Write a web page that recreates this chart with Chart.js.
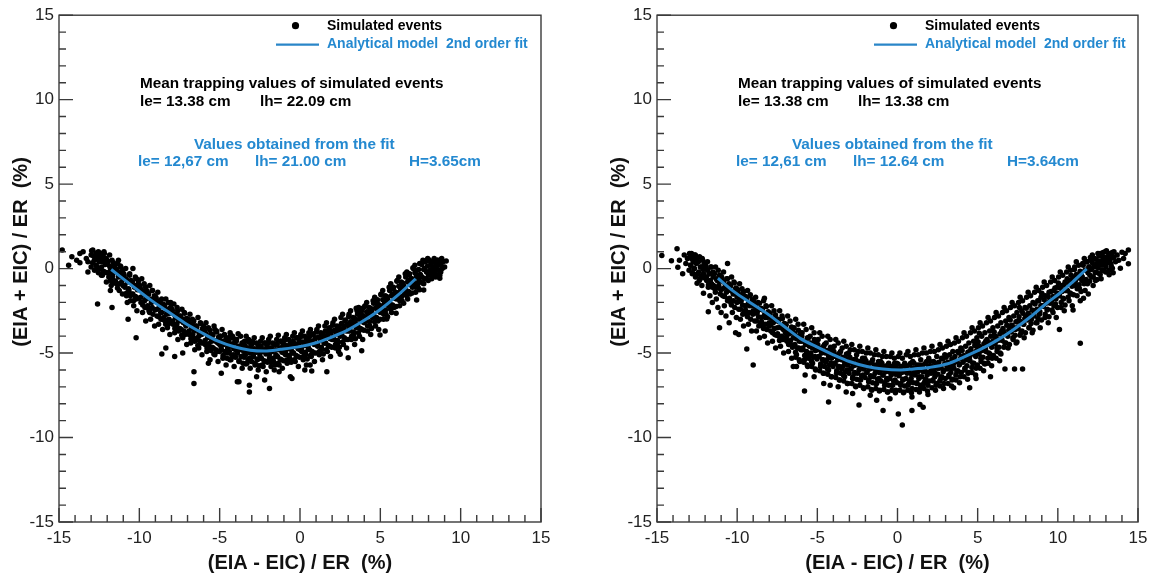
<!DOCTYPE html>
<html>
<head>
<meta charset="utf-8">
<script src="https://cdn.jsdelivr.net/npm/chart.js@4.4.1/dist/chart.umd.min.js"></script>
<style>
  html, body { margin: 0; padding: 0; background: #fff; }
  #wrap { position: relative; width: 1162px; height: 581px; }
  canvas { position: absolute; top: 0; }
</style>
</head>
<body>
<div id="wrap">
  <canvas id="left-panel" width="581" height="581" style="left:0"></canvas>
  <canvas id="right-panel" width="581" height="581" style="left:581px"></canvas>
</div>
<script>
// ── DATA ──────────────────────────────────
const axisTicks = [-15, -10, -5, 0, 5, 10, 15];
const xTitle = '(EIA - EIC) / ER  (%)';
const yTitle = '(EIA + EIC) / ER  (%)';
const legendLabels = ['Simulated events', 'Analytical model  2nd order fit'];
const meanTitle = 'Mean trapping values of simulated events';
const fitTitle = 'Values obtained from the fit';
const leftMean = ['le= 13.38 cm', 'lh= 22.09 cm'];
const leftFit = ['le= 12,67 cm', 'lh= 21.00 cm', 'H=3.65cm'];
const rightMean = ['le= 13.38 cm', 'lh= 13.38 cm'];
const rightFit = ['le= 12,61 cm', 'lh= 12.64 cm', 'H=3.64cm'];

// blue fit curves
const leftFitCurve = [
  [-11.75,-0.05],[-10.4,-1.05],[-9.3,-1.85],[-8.3,-2.5],[-7.2,-3.2],[-6.2,-3.75],
  [-5.1,-4.3],[-4.1,-4.63],[-3.1,-4.83],[-2.2,-4.88],[-1.2,-4.78],[0,-4.62],
  [0.9,-4.42],[1.9,-4.08],[2.9,-3.67],[3.9,-3.12],[5,-2.42],[6,-1.65],[7.2,-0.6]
];
const rightFitCurve = [
  [-11.2,-0.57],[-10.2,-1.36],[-9.2,-2.0],[-8.15,-2.65],[-7.1,-3.4],[-6.07,-4.13],
  [-5,-4.65],[-4,-5.1],[-3,-5.5],[-1.9,-5.8],[-0.9,-5.95],[0.2,-6.0],[1.0,-5.94],
  [2,-5.85],[3.07,-5.65],[4.1,-5.25],[5.14,-4.8],[6.2,-4.25],[7.2,-3.63],
  [8.3,-2.85],[9.3,-2.05],[10.2,-1.4],[10.95,-0.77],[11.8,-0.02]
];

// simulated events (x, y), left panel: spread and outliers
const leftEvents = [
  [-14.8,1.1],[-14.4,0.2],[-14.2,0.7],[-13.9,0.5],[-13.7,0.9],[-13.7,0.35],[-13.5,1.0],[-13.3,0.6],[-13.2,-0.2],[-13.2,0.4],[-13.0,0.8],[-13.0,0.1],
  [-12.9,1.1],[-12.8,0.5],[-12.7,0.9],[-12.7,0.2],[-12.6,0.7],[-12.6,-0.1],[-12.55,1.0],[-12.5,0.4],[-12.6,-2.1],
  [-12.45,0.6],[-12.4,0.9],[-12.35,0.1],[-12.3,-0.4],[-12.25,0.5],[-12.2,1.0],[-12.15,-0.2],[-12.1,0.3],[-12.05,-0.8],[-12.3,0.7],
  [-11.95,0.4],[-11.9,-0.5],[-11.85,0.8],[-11.8,0.0],[-11.75,-1.0],[-11.7,0.5],[-11.65,-0.3],[-11.6,-0.7],[-11.55,0.2],[-11.7,-2.3],[-11.8,-1.3],
  [-11.45,-0.1],[-11.4,-0.9],[-11.35,0.3],[-11.3,-0.5],[-11.25,-1.3],[-11.2,-0.2],[-11.15,0.1],[-11.1,-0.8],[-11.05,-1.5],[-11.3,0.5],
  [-10.95,-0.4],[-10.9,-1.1],[-10.85,0.0],[-10.8,-1.6],[-10.75,-0.7],[-10.7,-3.0],[-10.65,-1.3],[-10.6,-0.3],[-10.55,-1.9],[-10.75,-2.0],
  [-10.45,-0.8],[-10.4,0.0],[-10.4,-1.5],[-10.35,-2.2],[-10.3,-1.0],[-10.25,-0.5],[-10.2,-4.1],[-10.2,-1.8],[-10.15,-2.5],[-10.1,-1.2],[-10.05,-0.7],
  [-9.95,-1.1],[-9.9,-2.0],[-9.85,-0.6],[-9.8,-2.6],[-9.75,-1.5],[-9.7,-0.9],[-9.65,-2.3],[-9.6,-3.1],[-9.55,-1.3],[-9.6,-1.8],
  [-9.45,-1.5],[-9.4,-2.5],[-9.35,-1.0],[-9.3,-3.0],[-9.25,-2.0],[-9.2,-1.3],[-9.15,-2.7],[-9.1,-1.8],[-9.05,-3.4],[-9.2,-2.3],
  [-8.95,-1.8],[-8.9,-2.8],[-8.85,-1.4],[-8.8,-3.3],[-8.75,-2.3],[-8.7,-1.9],[-8.65,-3.0],[-8.6,-5.05],[-8.6,-2.6],[-8.55,-3.6],[-8.8,-2.0],
  [-8.45,-2.2],[-8.4,-3.1],[-8.35,-4.7],[-8.35,-1.8],[-8.3,-2.7],[-8.25,-3.5],[-8.2,-2.4],[-8.15,-3.0],[-8.1,-3.9],[-8.05,-2.0],[-8.2,-3.3],
  [-7.95,-2.5],[-7.9,-3.3],[-7.85,-2.1],[-7.8,-5.2],[-7.8,-3.8],[-7.75,-2.9],[-7.7,-3.5],[-7.65,-2.3],[-7.6,-4.2],[-7.55,-3.1],[-7.7,-2.7],
  [-7.45,-2.8],[-7.4,-3.6],[-7.35,-2.4],[-7.3,-5.0],[-7.3,-4.1],[-7.25,-3.2],[-7.2,-2.6],[-7.15,-3.9],[-7.1,-3.4],[-7.05,-4.5],[-7.2,-3.0],
  [-6.95,-3.1],[-6.9,-3.9],[-6.85,-2.7],[-6.8,-4.4],[-6.75,-3.5],[-6.7,-3.0],[-6.65,-4.1],[-6.6,-6.8],[-6.6,-6.1],[-6.6,-3.7],[-6.55,-4.8],[-6.7,-3.3],
  [-6.45,-3.4],[-6.4,-4.2],[-6.35,-2.9],[-6.3,-4.7],[-6.25,-3.8],[-6.2,-3.2],[-6.15,-4.4],[-6.1,-5.1],[-6.05,-3.6],[-6.0,-3.4],[-6.3,-4.0],
  [-5.95,-3.7],[-5.9,-4.5],[-5.85,-3.2],[-5.8,-4.9],[-5.75,-4.1],[-5.7,-3.5],[-5.65,-4.7],[-5.6,-5.4],[-5.55,-3.9],[-5.5,-4.3],[-5.7,-5.6],
  [-5.45,-3.9],[-5.4,-4.7],[-5.35,-3.4],[-5.3,-5.1],[-5.25,-4.3],[-5.2,-3.7],[-5.15,-4.9],[-5.1,-5.5],[-5.05,-4.1],[-5.0,-4.5],[-5.3,-3.6],
  [-4.95,-4.0],[-4.9,-6.2],[-4.9,-4.8],[-4.85,-3.6],[-4.8,-5.3],[-4.75,-4.4],[-4.7,-3.9],[-4.65,-5.0],[-4.6,-5.7],[-4.55,-4.2],[-4.5,-4.7],
  [-4.45,-4.1],[-4.4,-4.9],[-4.35,-3.8],[-4.3,-5.4],[-4.25,-4.5],[-4.2,-4.0],[-4.15,-5.1],[-4.1,-5.8],[-4.05,-4.3],[-4.0,-4.8],[-4.3,-3.95],
  [-3.95,-4.2],[-3.9,-6.7],[-3.9,-5.0],[-3.85,-3.85],[-3.8,-5.5],[-3.75,-4.6],[-3.7,-4.0],[-3.65,-5.2],[-3.6,-5.9],[-3.55,-4.4],[-3.5,-4.9],[-3.8,-6.7],
  [-3.45,-4.3],[-3.4,-5.1],[-3.35,-4.0],[-3.3,-5.6],[-3.25,-4.7],[-3.2,-4.2],[-3.15,-6.9],[-3.15,-7.3],[-3.15,-5.3],[-3.1,-5.9],[-3.05,-4.5],[-3.0,-5.0],
  [-2.95,-4.3],[-2.9,-5.2],[-2.85,-4.1],[-2.8,-5.7],[-2.75,-4.8],[-2.7,-6.4],[-2.7,-4.4],[-2.65,-5.4],[-2.6,-6.0],[-2.55,-4.6],[-2.5,-5.1],
  [-2.45,-4.3],[-2.4,-5.3],[-2.35,-4.1],[-2.3,-5.8],[-2.25,-4.8],[-2.2,-6.6],[-2.2,-4.4],[-2.15,-5.5],[-2.1,-6.1],[-2.05,-4.6],[-2.0,-5.0],
  [-1.95,-4.2],[-1.9,-7.1],[-1.9,-5.3],[-1.85,-4.0],[-1.8,-5.8],[-1.75,-4.7],[-1.7,-4.4],[-1.65,-5.5],[-1.6,-6.0],[-1.55,-4.5],[-1.5,-5.1],
  [-1.45,-4.2],[-1.4,-5.2],[-1.35,-3.95],[-1.3,-5.7],[-1.25,-4.7],[-1.2,-4.3],[-1.15,-5.4],[-1.1,-5.9],[-1.05,-4.5],[-1.0,-5.0],[-1.3,-6.1],
  [-0.95,-4.1],[-0.9,-5.1],[-0.85,-3.9],[-0.8,-5.6],[-0.75,-4.6],[-0.7,-4.2],[-0.65,-5.3],[-0.6,-6.4],[-0.55,-4.4],[-0.5,-4.9],[-0.5,-6.5],
  [-0.45,-4.0],[-0.4,-5.0],[-0.35,-3.8],[-0.3,-5.5],[-0.25,-4.5],[-0.2,-4.1],[-0.15,-5.2],[-0.1,-5.8],[-0.05,-4.3],[0.0,-4.8],
  [0.05,-3.9],[0.1,-4.9],[0.15,-3.7],[0.2,-5.4],[0.25,-4.4],[0.3,-6.0],[0.3,-4.0],[0.35,-5.1],[0.4,-5.7],[0.45,-4.2],[0.5,-4.6],
  [0.55,-3.8],[0.6,-4.8],[0.63,-5.7],[0.65,-3.6],[0.7,-5.2],[0.73,-6.06],[0.75,-4.3],[0.8,-3.9],[0.85,-5.0],[0.9,-5.5],[0.95,-4.1],[1.0,-4.5],
  [1.05,-3.6],[1.1,-4.6],[1.15,-3.4],[1.2,-5.1],[1.25,-4.1],[1.3,-3.8],[1.35,-4.8],[1.4,-5.4],[1.45,-3.9],[1.5,-4.4],
  [1.55,-3.4],[1.6,-4.4],[1.65,-3.2],[1.67,-6.1],[1.7,-4.9],[1.75,-3.9],[1.8,-3.6],[1.85,-4.6],[1.9,-5.2],[1.95,-3.7],[2.0,-4.2],
  [2.05,-3.2],[2.1,-4.2],[2.15,-3.0],[2.2,-4.7],[2.25,-3.7],[2.3,-3.4],[2.35,-4.4],[2.4,-4.9],[2.45,-3.5],[2.5,-5.07],[2.5,-4.0],
  [2.55,-2.9],[2.6,-3.9],[2.65,-2.7],[2.7,-4.5],[2.75,-3.4],[2.8,-3.1],[2.85,-4.2],[2.9,-4.7],[2.95,-3.3],[3.0,-5.27],[3.0,-3.7],
  [3.05,-2.7],[3.1,-3.7],[3.15,-2.5],[3.2,-4.2],[3.25,-3.2],[3.3,-2.9],[3.35,-3.9],[3.4,-4.5],[3.45,-3.0],[3.5,-2.35],[3.5,-3.5],
  [3.55,-2.5],[3.6,-3.4],[3.65,-2.3],[3.7,-4.0],[3.75,-2.9],[3.8,-2.6],[3.84,-4.86],[3.85,-3.6],[3.9,-2.35],[3.9,-4.2],[3.95,-2.8],[4.0,-3.2],
  [4.05,-2.2],[4.1,-3.1],[4.15,-2.0],[4.2,-3.7],[4.25,-2.6],[4.3,-2.3],[4.35,-3.4],[4.4,-3.9],[4.45,-2.5],[4.5,-2.9],
  [4.55,-1.9],[4.6,-2.8],[4.65,-1.7],[4.7,-3.4],[4.75,-2.3],[4.8,-2.0],[4.85,-3.1],[4.9,-3.6],[4.95,-2.2],[4.98,-3.93],[5.0,-2.6],
  [5.05,-1.5],[5.1,-2.5],[5.15,-1.3],[5.2,-3.0],[5.25,-1.9],[5.3,-3.7],[5.3,-1.6],[5.35,-2.7],[5.4,-2.98],[5.45,-1.8],[5.5,-2.2],
  [5.55,-1.1],[5.6,-2.1],[5.65,-0.9],[5.7,-2.6],[5.75,-1.5],[5.8,-1.2],[5.85,-2.3],[5.9,-1.7],[5.95,-1.4],[5.98,-2.65],[6.0,-1.8],
  [6.05,-0.7],[6.1,-1.7],[6.15,-0.5],[6.2,-2.2],[6.25,-1.1],[6.3,-0.8],[6.35,-1.9],[6.4,-1.3],[6.45,-1.0],[6.5,-1.5],
  [6.55,-0.3],[6.6,-1.3],[6.65,-0.2],[6.7,-1.8],[6.75,-0.7],[6.8,-0.4],[6.85,-1.5],[6.9,-0.9],[6.95,-0.6],[7.0,-1.1],
  [7.05,0.0],[7.1,-0.9],[7.15,0.2],[7.2,-1.4],[7.25,-0.4],[7.26,-1.86],[7.3,-0.1],[7.35,-1.1],[7.4,-0.6],[7.45,0.3],[7.5,-0.8],
  [7.55,0.3],[7.6,-0.5],[7.65,0.5],[7.7,-1.26],[7.7,-0.9],[7.75,0.0],[7.8,0.4],[7.85,-0.6],[7.9,-0.2],[7.95,0.6],[8.0,-0.4],
  [8.05,0.5],[8.1,-0.2],[8.15,0.2],[8.2,-0.6],[8.25,0.4],[8.3,0.0],[8.35,0.6],[8.4,-0.3],[8.45,0.3],[8.5,0.1],
  [8.55,0.5],[8.6,-0.1],[8.65,0.3],[8.7,-0.57],[8.75,0.2],[8.8,0.55],[8.85,0.0],[8.9,0.4],[9.0,0.1],[9.1,0.45],[8.7,-0.4]
];

// left panel: dense core of the band
const leftEventsCore = [
  [-12.97,1.05],[-12.91,0.35],[-12.85,0.75],[-12.79,-0.1],[-12.73,0.55],[-12.67,0.15],[-12.61,0.95],[-12.55,-0.25],[-12.51,0.65],
  [-12.48,0.0],[-12.42,0.7],[-12.36,-0.4],[-12.3,0.4],[-12.24,-0.15],[-12.18,0.9],[-12.12,0.25],[-12.06,0.6],[-12.02,-0.25],
  [-11.97,0.45],[-11.91,-0.25],[-11.85,0.15],[-11.79,-0.7],[-11.73,-0.05],[-11.67,-0.45],[-11.61,0.35],[-11.55,-0.85],[-11.51,0.05],
  [-11.48,-0.75],[-11.42,-0.05],[-11.36,-1.15],[-11.3,-0.35],[-11.24,-0.9],[-11.18,0.15],[-11.12,-0.5],[-11.06,-0.15],[-11.02,-1.0],
  [-10.97,-0.3],[-10.91,-1.0],[-10.85,-0.6],[-10.79,-1.45],[-10.73,-0.8],[-10.67,-1.2],[-10.61,-0.4],[-10.55,-1.6],[-10.51,-0.7],
  [-10.48,-1.5],[-10.42,-0.8],[-10.36,-1.9],[-10.3,-1.1],[-10.24,-1.65],[-10.18,-0.6],[-10.12,-1.25],[-10.06,-0.9],[-10.02,-1.75],
  [-9.97,-1.0],[-9.91,-1.7],[-9.85,-1.3],[-9.79,-2.15],[-9.73,-1.5],[-9.67,-1.9],[-9.61,-1.1],[-9.55,-2.3],[-9.51,-1.4],
  [-9.48,-2.2],[-9.42,-1.5],[-9.36,-2.6],[-9.3,-1.8],[-9.24,-2.35],[-9.18,-1.3],[-9.12,-1.95],[-9.06,-1.6],[-9.02,-2.45],
  [-8.97,-1.7],[-8.91,-2.4],[-8.85,-2.0],[-8.79,-2.85],[-8.73,-2.2],[-8.67,-2.6],[-8.61,-1.8],[-8.55,-3.0],[-8.51,-2.1],
  [-8.48,-2.9],[-8.42,-2.2],[-8.36,-3.3],[-8.3,-2.5],[-8.24,-3.05],[-8.18,-2.0],[-8.12,-2.65],[-8.06,-2.3],[-8.02,-3.15],
  [-7.97,-2.4],[-7.91,-3.1],[-7.85,-2.7],[-7.79,-3.55],[-7.73,-2.9],[-7.67,-3.3],[-7.61,-2.5],[-7.55,-3.7],[-7.51,-2.8],
  [-7.48,-3.55],[-7.42,-2.85],[-7.36,-3.95],[-7.3,-3.15],[-7.24,-3.7],[-7.18,-2.65],[-7.12,-3.3],[-7.06,-2.95],[-7.02,-3.8],
  [-6.97,-3.0],[-6.91,-3.7],[-6.85,-3.3],[-6.79,-4.15],[-6.73,-3.5],[-6.67,-3.9],[-6.61,-3.1],[-6.55,-4.3],[-6.51,-3.4],
  [-6.48,-4.15],[-6.42,-3.45],[-6.36,-4.55],[-6.3,-3.75],[-6.24,-4.3],[-6.18,-3.25],[-6.12,-3.9],[-6.06,-3.55],[-6.02,-4.4],
  [-5.97,-3.55],[-5.91,-4.25],[-5.85,-3.85],[-5.79,-4.7],[-5.73,-4.05],[-5.67,-4.45],[-5.61,-3.65],[-5.55,-4.85],[-5.51,-3.95],
  [-5.48,-4.65],[-5.42,-3.95],[-5.36,-5.05],[-5.3,-4.25],[-5.24,-4.8],[-5.18,-3.75],[-5.12,-4.4],[-5.06,-4.05],[-5.02,-4.9],
  [-4.97,-4.0],[-4.91,-4.7],[-4.85,-4.3],[-4.79,-5.15],[-4.73,-4.5],[-4.67,-4.9],[-4.61,-4.1],[-4.55,-5.3],[-4.51,-4.4],
  [-4.48,-5.0],[-4.42,-4.3],[-4.36,-5.4],[-4.3,-4.6],[-4.24,-5.15],[-4.18,-4.1],[-4.12,-4.75],[-4.06,-4.4],[-4.02,-5.25],
  [-3.97,-4.3],[-3.91,-5.0],[-3.85,-4.6],[-3.79,-5.45],[-3.73,-4.8],[-3.67,-5.2],[-3.61,-4.4],[-3.55,-5.6],[-3.51,-4.7],
  [-3.48,-5.25],[-3.42,-4.55],[-3.36,-5.65],[-3.3,-4.85],[-3.24,-5.4],[-3.18,-4.35],[-3.12,-5.0],[-3.06,-4.65],[-3.02,-5.5],
  [-2.97,-4.45],[-2.91,-5.15],[-2.85,-4.75],[-2.79,-5.6],[-2.73,-4.95],[-2.67,-5.35],[-2.61,-4.55],[-2.55,-5.75],[-2.51,-4.85],
  [-2.48,-5.3],[-2.42,-4.6],[-2.36,-5.7],[-2.3,-4.9],[-2.24,-5.45],[-2.18,-4.4],[-2.12,-5.05],[-2.06,-4.7],[-2.02,-5.55],
  [-1.97,-4.4],[-1.91,-5.1],[-1.85,-4.7],[-1.79,-5.55],[-1.73,-4.9],[-1.67,-5.3],[-1.61,-4.5],[-1.55,-5.7],[-1.51,-4.8],
  [-1.48,-5.2],[-1.42,-4.5],[-1.36,-5.6],[-1.3,-4.8],[-1.24,-5.35],[-1.18,-4.3],[-1.12,-4.95],[-1.06,-4.6],[-1.02,-5.45],
  [-0.97,-4.25],[-0.91,-4.95],[-0.85,-4.55],[-0.79,-5.4],[-0.73,-4.75],[-0.67,-5.15],[-0.61,-4.35],[-0.55,-5.55],[-0.51,-4.65],
  [-0.48,-5.0],[-0.42,-4.3],[-0.36,-5.4],[-0.3,-4.6],[-0.24,-5.15],[-0.18,-4.1],[-0.12,-4.75],[-0.06,-4.4],[-0.02,-5.25],
  [0.03,-4.05],[0.09,-4.75],[0.15,-4.35],[0.21,-5.2],[0.27,-4.55],[0.33,-4.95],[0.39,-4.15],[0.45,-5.35],[0.49,-4.45],
  [0.52,-4.75],[0.58,-4.05],[0.64,-5.15],[0.7,-4.35],[0.76,-4.9],[0.82,-3.85],[0.88,-4.5],[0.94,-4.15],[0.98,-5.0],
  [1.03,-3.75],[1.09,-4.45],[1.15,-4.05],[1.21,-4.9],[1.27,-4.25],[1.33,-4.65],[1.39,-3.85],[1.45,-5.05],[1.49,-4.15],
  [1.52,-4.4],[1.58,-3.7],[1.64,-4.8],[1.7,-4.0],[1.76,-4.55],[1.82,-3.5],[1.88,-4.15],[1.94,-3.8],[1.98,-4.65],
  [2.03,-3.35],[2.09,-4.05],[2.15,-3.65],[2.21,-4.5],[2.27,-3.85],[2.33,-4.25],[2.39,-3.45],[2.45,-4.65],[2.49,-3.75],
  [2.52,-3.95],[2.58,-3.25],[2.64,-4.35],[2.7,-3.55],[2.76,-4.1],[2.82,-3.05],[2.88,-3.7],[2.94,-3.35],[2.98,-4.2],
  [3.03,-2.85],[3.09,-3.55],[3.15,-3.15],[3.21,-4.0],[3.27,-3.35],[3.33,-3.75],[3.39,-2.95],[3.45,-4.15],[3.49,-3.25],
  [3.52,-3.4],[3.58,-2.7],[3.64,-3.8],[3.7,-3.0],[3.76,-3.55],[3.82,-2.5],[3.88,-3.15],[3.94,-2.8],[3.98,-3.65],
  [4.03,-2.25],[4.09,-2.95],[4.15,-2.55],[4.21,-3.4],[4.27,-2.75],[4.33,-3.15],[4.39,-2.35],[4.45,-3.55],[4.49,-2.65],
  [4.52,-2.75],[4.58,-2.05],[4.64,-3.15],[4.7,-2.35],[4.76,-2.9],[4.82,-1.85],[4.88,-2.5],[4.94,-2.15],[4.98,-3.0],
  [5.03,-1.55],[5.09,-2.25],[5.15,-1.85],[5.21,-2.7],[5.27,-2.05],[5.33,-2.45],[5.39,-1.65],[5.45,-2.85],[5.49,-1.95],
  [5.52,-2.0],[5.58,-1.3],[5.64,-2.4],[5.7,-1.6],[5.76,-2.15],[5.82,-1.1],[5.88,-1.75],[5.94,-1.4],[5.98,-2.25],
  [6.03,-0.75],[6.09,-1.45],[6.15,-1.05],[6.21,-1.9],[6.27,-1.25],[6.33,-1.65],[6.39,-0.85],[6.45,-2.05],[6.49,-1.15],
  [6.52,-1.2],[6.58,-0.5],[6.64,-1.6],[6.7,-0.8],[6.76,-1.35],[6.82,-0.3],[6.88,-0.95],[6.94,-0.6],[6.98,-1.45],
  [7.03,0.05],[7.09,-0.65],[7.15,-0.25],[7.21,-1.1],[7.27,-0.45],[7.33,-0.85],[7.39,-0.05],[7.45,-1.25],[7.49,-0.35],
  [7.52,-0.45],[7.58,0.25],[7.64,-0.85],[7.7,-0.05],[7.76,-0.6],[7.82,0.45],[7.88,-0.2],[7.94,0.15],[7.98,-0.7],
  [8.03,0.5],[8.09,-0.1],[8.15,0.3],[8.21,-0.45],[8.27,0.1],[8.33,-0.25],[8.39,0.45],[8.45,-0.5],[8.49,0.2],
  [8.52,-0.1],[8.58,0.5],[8.64,-0.4],[8.7,0.25],[8.76,-0.2],[8.82,0.6],[8.88,0.1]
];

// simulated events (x, y), right panel: spread and outliers
const rightEvents = [
  [-14.7,0.77],[-14.1,0.47],[-13.75,1.17],[-13.7,0.08],[-13.6,0.5],[-13.4,-0.3],[-13.3,0.8],[-13.2,0.3],[-13.1,0.6],[-13.0,-0.1],
  [-12.95,0.7],[-12.9,0.2],[-12.85,0.9],[-12.8,-0.3],[-12.75,0.5],[-12.7,0.0],[-12.65,0.8],[-12.6,-0.5],[-12.55,0.3],[-12.5,-0.87],[-12.6,0.6],
  [-12.45,0.4],[-12.4,-0.2],[-12.35,0.7],[-12.3,-0.6],[-12.25,0.1],[-12.2,-1.0],[-12.15,0.5],[-12.1,-1.46],[-12.1,-0.3],[-12.05,0.2],
  [-11.95,0.0],[-11.9,-0.7],[-11.85,0.4],[-11.8,-2.55],[-11.8,-1.1],[-11.75,-0.3],[-11.7,-1.6],[-11.65,0.1],[-11.6,-0.9],[-11.55,-2.0],[-11.5,-0.5],
  [-11.45,-0.3],[-11.4,-1.2],[-11.35,0.1],[-11.3,-1.8],[-11.25,-0.7],[-11.2,-2.3],[-11.15,-1.0],[-11.1,-3.5],[-11.1,-0.4],[-11.05,-1.5],[-11.0,-2.6],
  [-10.95,-0.7],[-10.9,-1.6],[-10.85,-0.2],[-10.8,-2.2],[-10.75,-1.1],[-10.7,-2.8],[-10.65,-0.6],[-10.6,0.3],[-10.6,-1.9],[-10.55,-1.3],[-10.5,-3.2],
  [-10.45,-1.0],[-10.4,-2.0],[-10.35,-0.5],[-10.3,-2.6],[-10.25,-1.5],[-10.2,-0.8],[-10.15,-2.3],[-10.1,-3.8],[-10.1,-1.2],[-10.05,-2.9],[-10.0,-1.7],
  [-9.95,-1.4],[-9.9,-3.9],[-9.9,-2.4],[-9.85,-0.9],[-9.8,-3.0],[-9.75,-1.9],[-9.7,-1.2],[-9.65,-2.7],[-9.6,-3.4],[-9.55,-1.6],[-9.5,-2.2],
  [-9.45,-1.7],[-9.4,-4.76],[-9.4,-2.7],[-9.35,-1.3],[-9.3,-3.3],[-9.25,-2.2],[-9.2,-1.6],[-9.15,-3.0],[-9.1,-3.7],[-9.05,-2.0],[-9.0,-5.7],[-9.0,-2.5],
  [-8.95,-2.1],[-8.9,-3.1],[-8.85,-1.7],[-8.8,-3.7],[-8.75,-2.6],[-8.7,-2.0],[-8.65,-3.4],[-8.6,-4.1],[-8.55,-2.4],[-8.5,-2.9],
  [-8.45,-2.4],[-8.4,-3.4],[-8.35,-1.9],[-8.3,-4.0],[-8.25,-2.9],[-8.2,-2.2],[-8.15,-3.6],[-8.1,-4.4],[-8.05,-2.7],[-8.0,-3.2],[-8.3,-1.76],
  [-7.95,-2.7],[-7.9,-3.7],[-7.85,-2.2],[-7.8,-4.3],[-7.75,-3.2],[-7.7,-2.5],[-7.65,-3.9],[-7.6,-4.7],[-7.55,-3.0],[-7.5,-3.5],
  [-7.45,-3.0],[-7.4,-4.0],[-7.35,-2.5],[-7.3,-4.6],[-7.25,-3.5],[-7.2,-2.8],[-7.15,-4.2],[-7.1,-5.0],[-7.05,-3.3],[-7.0,-3.8],
  [-6.95,-3.3],[-6.9,-4.3],[-6.85,-2.8],[-6.8,-4.9],[-6.75,-3.8],[-6.7,-3.1],[-6.65,-4.5],[-6.6,-5.3],[-6.55,-3.6],[-6.5,-5.8],[-6.5,-4.1],
  [-6.45,-3.5],[-6.4,-4.5],[-6.35,-3.0],[-6.3,-5.1],[-6.25,-4.0],[-6.2,-3.3],[-6.15,-4.7],[-6.1,-5.5],[-6.05,-3.8],[-6.0,-4.3],[-6.3,-5.8],
  [-5.95,-3.8],[-5.9,-4.8],[-5.85,-3.3],[-5.8,-7.25],[-5.8,-5.4],[-5.76,-6.3],[-5.75,-4.3],[-5.7,-3.6],[-5.65,-5.0],[-5.6,-5.8],[-5.55,-4.1],[-5.5,-4.6],
  [-5.45,-4.0],[-5.4,-5.0],[-5.35,-3.5],[-5.3,-5.6],[-5.25,-4.5],[-5.2,-3.8],[-5.15,-5.2],[-5.1,-6.0],[-5.05,-4.3],[-5.0,-4.8],[-5.2,-6.4],
  [-4.95,-4.2],[-4.9,-5.2],[-4.85,-3.8],[-4.8,-5.8],[-4.75,-4.7],[-4.7,-4.0],[-4.65,-5.4],[-4.6,-6.2],[-4.55,-4.5],[-4.5,-5.0],[-4.6,-6.8],
  [-4.45,-4.4],[-4.4,-5.4],[-4.35,-4.0],[-4.3,-7.9],[-4.3,-6.0],[-4.25,-4.9],[-4.2,-4.2],[-4.15,-5.6],[-4.1,-6.4],[-4.05,-4.7],[-4.0,-5.2],[-4.2,-6.9],
  [-3.95,-4.6],[-3.9,-5.6],[-3.85,-4.2],[-3.8,-6.2],[-3.75,-5.1],[-3.7,-4.4],[-3.65,-5.8],[-3.6,-6.6],[-3.55,-4.9],[-3.5,-5.4],[-3.7,-7.0],
  [-3.45,-4.7],[-3.4,-5.8],[-3.35,-4.3],[-3.3,-6.4],[-3.25,-5.3],[-3.2,-4.6],[-3.15,-6.0],[-3.1,-6.8],[-3.05,-5.0],[-3.0,-5.6],[-3.2,-7.3],
  [-2.95,-4.8],[-2.9,-5.9],[-2.85,-4.5],[-2.8,-6.5],[-2.75,-5.4],[-2.7,-4.8],[-2.65,-6.2],[-2.6,-7.0],[-2.55,-5.1],[-2.5,-5.7],[-2.8,-7.4],
  [-2.45,-4.9],[-2.4,-8.07],[-2.4,-6.0],[-2.35,-4.6],[-2.3,-6.6],[-2.25,-5.5],[-2.2,-4.9],[-2.15,-6.3],[-2.1,-7.1],[-2.05,-5.3],[-2.0,-5.8],
  [-1.95,-5.0],[-1.9,-6.1],[-1.85,-4.7],[-1.8,-6.7],[-1.75,-5.6],[-1.7,-5.0],[-1.65,-6.4],[-1.6,-7.2],[-1.55,-5.4],[-1.5,-5.9],[-1.7,-7.5],
  [-1.45,-5.1],[-1.4,-6.2],[-1.35,-4.8],[-1.3,-7.8],[-1.3,-6.8],[-1.25,-5.7],[-1.2,-5.1],[-1.15,-6.5],[-1.1,-7.2],[-1.05,-5.5],[-1.0,-6.0],
  [-0.95,-5.2],[-0.9,-8.4],[-0.9,-6.3],[-0.85,-4.9],[-0.8,-6.9],[-0.75,-5.8],[-0.7,-5.2],[-0.65,-6.6],[-0.6,-7.3],[-0.55,-5.6],[-0.5,-6.1],
  [-0.47,-7.7],[-0.45,-5.2],[-0.4,-6.3],[-0.35,-5.0],[-0.3,-6.9],[-0.25,-5.8],[-0.2,-5.3],[-0.15,-6.6],[-0.1,-7.2],[-0.05,-5.6],[0.0,-6.1],
  [0.05,-8.6],[0.05,-5.2],[0.1,-6.3],[0.15,-5.0],[0.2,-6.9],[0.25,-5.8],[0.3,-9.26],[0.3,-5.3],[0.35,-6.6],[0.4,-7.3],[0.45,-5.6],[0.5,-6.1],
  [0.55,-5.1],[0.6,-6.2],[0.65,-4.9],[0.7,-6.8],[0.75,-5.7],[0.8,-5.2],[0.85,-6.5],[0.9,-8.4],[0.9,-7.6],[0.9,-7.1],[0.95,-5.5],[1.0,-6.0],
  [1.05,-5.1],[1.1,-6.2],[1.15,-4.8],[1.2,-6.8],[1.25,-5.7],[1.3,-5.1],[1.35,-6.4],[1.4,-8.04],[1.4,-7.1],[1.45,-5.4],[1.5,-5.9],
  [1.55,-5.0],[1.6,-8.2],[1.6,-6.1],[1.65,-4.7],[1.7,-6.7],[1.75,-5.6],[1.8,-5.0],[1.85,-6.3],[1.9,-7.45],[1.9,-6.9],[1.95,-5.3],[2.0,-5.8],
  [2.05,-4.9],[2.1,-6.0],[2.15,-4.6],[2.2,-6.6],[2.25,-5.5],[2.3,-4.9],[2.35,-6.2],[2.4,-6.9],[2.45,-5.2],[2.5,-5.7],
  [2.55,-4.8],[2.6,-5.9],[2.65,-4.5],[2.7,-6.5],[2.75,-5.3],[2.8,-4.7],[2.85,-6.1],[2.9,-6.8],[2.95,-5.1],[3.0,-5.6],
  [3.05,-4.6],[3.1,-5.7],[3.15,-4.3],[3.2,-6.3],[3.25,-5.1],[3.3,-4.5],[3.35,-5.9],[3.4,-6.6],[3.45,-4.9],[3.5,-7.05],[3.5,-5.4],
  [3.55,-4.4],[3.6,-5.5],[3.65,-4.1],[3.7,-6.1],[3.75,-4.9],[3.8,-4.3],[3.85,-5.7],[3.9,-6.4],[3.95,-4.7],[4.0,-5.2],
  [4.05,-4.1],[4.1,-5.2],[4.15,-3.8],[4.2,-5.9],[4.25,-4.6],[4.3,-4.0],[4.35,-5.4],[4.4,-6.2],[4.45,-4.4],[4.5,-7.05],[4.5,-4.9],
  [4.55,-3.8],[4.6,-4.9],[4.65,-3.5],[4.7,-5.6],[4.75,-4.3],[4.8,-3.7],[4.85,-5.1],[4.9,-6.5],[4.9,-5.9],[4.95,-4.1],[5.0,-4.6],
  [5.05,-3.5],[5.1,-3.83],[5.1,-4.6],[5.15,-3.2],[5.2,-5.3],[5.25,-4.0],[5.3,-3.4],[5.35,-4.8],[5.4,-5.6],[5.45,-3.8],[5.5,-4.3],
  [5.55,-3.2],[5.6,-4.3],[5.65,-2.9],[5.7,-5.0],[5.75,-3.7],[5.8,-6.4],[5.8,-3.1],[5.85,-4.5],[5.9,-5.3],[5.95,-3.5],[6.0,-4.0],
  [6.05,-2.9],[6.1,-4.0],[6.15,-2.6],[6.2,-4.7],[6.25,-3.4],[6.3,-2.8],[6.35,-4.2],[6.4,-5.0],[6.45,-3.2],[6.5,-3.7],
  [6.55,-2.6],[6.6,-3.7],[6.65,-2.3],[6.7,-5.94],[6.7,-4.4],[6.75,-3.1],[6.8,-2.5],[6.85,-3.9],[6.9,-4.7],[6.95,-2.9],[7.0,-3.4],
  [7.05,-2.3],[7.1,-3.4],[7.15,-2.0],[7.2,-4.1],[7.25,-2.8],[7.3,-5.94],[7.3,-2.2],[7.35,-3.6],[7.4,-4.4],[7.45,-2.6],[7.5,-3.1],
  [7.55,-2.0],[7.6,-2.3],[7.6,-3.1],[7.65,-1.7],[7.7,-3.8],[7.75,-2.5],[7.8,-5.94],[7.8,-1.9],[7.85,-3.3],[7.9,-4.1],[7.95,-2.3],[8.0,-2.8],
  [8.05,-1.7],[8.1,-2.8],[8.15,-1.4],[8.2,-3.5],[8.25,-2.2],[8.3,-1.6],[8.35,-3.0],[8.4,-3.8],[8.45,-2.0],[8.5,-2.5],
  [8.55,-1.4],[8.6,-2.5],[8.65,-1.1],[8.7,-3.2],[8.75,-1.9],[8.8,-1.3],[8.85,-2.7],[8.9,-3.5],[8.95,-1.7],[9.0,-1.46],[9.0,-2.2],
  [9.05,-1.1],[9.1,-2.2],[9.15,-0.8],[9.2,-2.9],[9.25,-1.6],[9.3,-1.0],[9.35,-2.4],[9.4,-3.2],[9.45,-1.4],[9.5,-1.9],
  [9.55,-0.8],[9.6,-1.9],[9.65,-0.5],[9.7,-2.6],[9.75,-1.3],[9.8,-0.7],[9.85,-2.1],[9.9,-2.9],[9.95,-1.1],[10.0,-1.6],
  [10.05,-0.5],[10.1,-3.6],[10.1,-1.6],[10.15,-0.2],[10.2,-2.3],[10.25,-1.0],[10.3,-0.4],[10.35,-1.8],[10.4,-2.5],[10.45,-0.8],[10.5,-1.3],
  [10.55,-0.2],[10.6,-1.3],[10.65,0.1],[10.7,-1.9],[10.75,-0.7],[10.8,-0.1],[10.85,-1.5],[10.9,-2.2],[10.95,-2.45],[10.95,-0.5],[11.0,-1.0],
  [11.05,0.1],[11.1,-1.0],[11.15,0.4],[11.2,-1.6],[11.25,-0.4],[11.3,0.2],[11.35,-1.2],[11.4,-4.42],[11.4,-1.9],[11.45,-0.2],[11.5,-0.7],
  [11.55,0.3],[11.6,-1.76],[11.6,-0.7],[11.65,0.6],[11.7,-1.3],[11.75,-0.1],[11.8,0.4],[11.85,-0.9],[11.9,-1.5],[11.95,0.1],[12.0,-0.4],
  [12.05,0.5],[12.1,-0.5],[12.15,0.8],[12.2,-1.0],[12.25,0.1],[12.3,0.6],[12.35,-0.7],[12.4,-0.2],[12.45,0.3],[12.5,0.9],
  [12.55,0.4],[12.6,-0.3],[12.65,0.9],[12.7,-0.6],[12.75,0.2],[12.8,0.7],[12.85,-0.1],[12.9,0.5],[12.95,1.0],[13.0,0.1],
  [13.05,0.6],[13.1,-0.2],[13.2,-0.37],[13.2,0.9],[13.3,0.3],[13.4,0.02],[13.45,0.7],[13.5,1.0],[13.6,0.4],[13.7,0.8],
  [13.8,0.5],[13.9,0.02],[14.0,0.97],[14.1,0.6],[14.2,0.9],[14.4,1.1],[14.4,0.28]
];

// right panel: dense core of the band
const rightEventsCore = [
  [-12.97,0.9],[-12.91,0.2],[-12.85,0.6],[-12.79,-0.25],[-12.73,0.4],[-12.67,0.0],[-12.61,0.8],[-12.55,-0.4],[-12.51,0.5],
  [-12.48,-0.3],[-12.42,0.4],[-12.36,-0.7],[-12.3,0.1],[-12.24,-0.45],[-12.18,0.6],[-12.12,-0.05],[-12.06,0.3],[-12.02,-0.55],
  [-11.97,0.2],[-11.91,-0.5],[-11.85,-0.1],[-11.79,-0.95],[-11.73,-0.3],[-11.67,-0.7],[-11.61,0.1],[-11.55,-1.1],[-11.51,-0.2],
  [-11.48,-1.0],[-11.42,-0.3],[-11.36,-1.4],[-11.3,-0.6],[-11.24,-1.15],[-11.18,-0.1],[-11.12,-0.75],[-11.06,-0.4],[-11.02,-1.25],
  [-10.97,-0.5],[-10.91,-1.2],[-10.85,-0.8],[-10.79,-1.65],[-10.73,-1.0],[-10.67,-1.4],[-10.61,-0.6],[-10.55,-1.8],[-10.51,-0.9],
  [-10.48,-1.75],[-10.42,-1.05],[-10.36,-2.15],[-10.3,-1.35],[-10.24,-1.9],[-10.18,-0.85],[-10.12,-1.5],[-10.06,-1.15],[-10.02,-2.0],
  [-9.97,-1.25],[-9.91,-1.95],[-9.85,-1.55],[-9.79,-2.4],[-9.73,-1.75],[-9.67,-2.15],[-9.61,-1.35],[-9.55,-2.55],[-9.51,-1.65],
  [-9.48,-2.45],[-9.42,-1.75],[-9.36,-2.85],[-9.3,-2.05],[-9.24,-2.6],[-9.18,-1.55],[-9.12,-2.2],[-9.06,-1.85],[-9.02,-2.7],
  [-8.97,-1.95],[-8.91,-2.65],[-8.85,-2.25],[-8.79,-3.1],[-8.73,-2.45],[-8.67,-2.85],[-8.61,-2.05],[-8.55,-3.25],[-8.51,-2.35],
  [-8.48,-3.15],[-8.42,-2.45],[-8.36,-3.55],[-8.3,-2.75],[-8.24,-3.3],[-8.18,-2.25],[-8.12,-2.9],[-8.06,-2.55],[-8.02,-3.4],
  [-7.97,-2.65],[-7.91,-3.35],[-7.85,-2.95],[-7.79,-3.8],[-7.73,-3.15],[-7.67,-3.55],[-7.61,-2.75],[-7.55,-3.95],[-7.51,-3.05],
  [-7.48,-3.85],[-7.42,-3.15],[-7.36,-4.25],[-7.3,-3.45],[-7.24,-4.0],[-7.18,-2.95],[-7.12,-3.6],[-7.06,-3.25],[-7.02,-4.1],
  [-6.97,-3.35],[-6.91,-4.05],[-6.85,-3.65],[-6.79,-4.5],[-6.73,-3.85],[-6.67,-4.25],[-6.61,-3.45],[-6.55,-4.65],[-6.51,-3.75],
  [-6.48,-4.55],[-6.42,-3.85],[-6.36,-4.95],[-6.3,-4.15],[-6.24,-4.7],[-6.18,-3.65],[-6.12,-4.3],[-6.06,-3.95],[-6.02,-4.8],[-6.35,-5.25],[-6.13,-5.4],
  [-5.97,-4.0],[-5.91,-4.7],[-5.85,-4.3],[-5.79,-5.15],[-5.73,-4.5],[-5.67,-4.9],[-5.61,-4.1],[-5.55,-5.3],[-5.51,-4.4],[-5.85,-5.55],[-5.63,-5.7],
  [-5.48,-5.1],[-5.42,-4.4],[-5.36,-5.5],[-5.3,-4.7],[-5.24,-5.25],[-5.18,-4.2],[-5.12,-4.85],[-5.06,-4.5],[-5.02,-5.35],[-5.35,-5.8],[-5.13,-5.95],
  [-4.97,-4.5],[-4.91,-5.2],[-4.85,-4.8],[-4.79,-5.65],[-4.73,-5.0],[-4.67,-5.4],[-4.61,-4.6],[-4.55,-5.8],[-4.51,-4.9],[-4.85,-6.05],[-4.63,-6.2],
  [-4.48,-5.55],[-4.42,-4.85],[-4.36,-5.95],[-4.3,-5.15],[-4.24,-5.7],[-4.18,-4.65],[-4.12,-5.3],[-4.06,-4.95],[-4.02,-5.8],[-4.35,-6.25],[-4.13,-6.4],
  [-3.97,-4.9],[-3.91,-5.6],[-3.85,-5.2],[-3.79,-6.05],[-3.73,-5.4],[-3.67,-5.8],[-3.61,-5.0],[-3.55,-6.2],[-3.51,-5.3],[-3.85,-6.45],[-3.63,-6.6],
  [-3.48,-5.95],[-3.42,-5.25],[-3.36,-6.35],[-3.3,-5.55],[-3.24,-6.1],[-3.18,-5.05],[-3.12,-5.7],[-3.06,-5.35],[-3.02,-6.2],[-3.35,-6.65],[-3.13,-6.8],
  [-2.97,-5.25],[-2.91,-5.95],[-2.85,-5.55],[-2.79,-6.4],[-2.73,-5.75],[-2.67,-6.15],[-2.61,-5.35],[-2.55,-6.55],[-2.51,-5.65],[-2.85,-6.8],[-2.63,-6.95],
  [-2.48,-6.2],[-2.42,-5.5],[-2.36,-6.6],[-2.3,-5.8],[-2.24,-6.35],[-2.18,-5.3],[-2.12,-5.95],[-2.06,-5.6],[-2.02,-6.45],[-2.35,-6.9],[-2.13,-7.05],
  [-1.97,-5.45],[-1.91,-6.15],[-1.85,-5.75],[-1.79,-6.6],[-1.73,-5.95],[-1.67,-6.35],[-1.61,-5.55],[-1.55,-6.75],[-1.51,-5.85],[-1.85,-7.0],[-1.63,-7.15],
  [-1.48,-6.4],[-1.42,-5.7],[-1.36,-6.8],[-1.3,-6.0],[-1.24,-6.55],[-1.18,-5.5],[-1.12,-6.15],[-1.06,-5.8],[-1.02,-6.65],[-1.35,-7.1],[-1.13,-7.25],
  [-0.97,-5.6],[-0.91,-6.3],[-0.85,-5.9],[-0.79,-6.75],[-0.73,-6.1],[-0.67,-6.5],[-0.61,-5.7],[-0.55,-6.9],[-0.51,-6.0],[-0.85,-7.15],[-0.63,-7.3],
  [-0.48,-6.5],[-0.42,-5.8],[-0.36,-6.9],[-0.3,-6.1],[-0.24,-6.65],[-0.18,-5.6],[-0.12,-6.25],[-0.06,-5.9],[-0.02,-6.75],[-0.35,-7.2],[-0.13,-7.35],
  [0.03,-5.65],[0.09,-6.35],[0.15,-5.95],[0.21,-6.8],[0.27,-6.15],[0.33,-6.55],[0.39,-5.75],[0.45,-6.95],[0.49,-6.05],[0.15,-7.2],[0.37,-7.35],
  [0.52,-6.5],[0.58,-5.8],[0.64,-6.9],[0.7,-6.1],[0.76,-6.65],[0.82,-5.6],[0.88,-6.25],[0.94,-5.9],[0.98,-6.75],[0.65,-7.2],[0.87,-7.35],
  [1.03,-5.6],[1.09,-6.3],[1.15,-5.9],[1.21,-6.75],[1.27,-6.1],[1.33,-6.5],[1.39,-5.7],[1.45,-6.9],[1.49,-6.0],[1.15,-7.15],[1.37,-7.3],
  [1.52,-6.4],[1.58,-5.7],[1.64,-6.8],[1.7,-6.0],[1.76,-6.55],[1.82,-5.5],[1.88,-6.15],[1.94,-5.8],[1.98,-6.65],[1.65,-7.1],[1.87,-7.25],
  [2.03,-5.5],[2.09,-6.2],[2.15,-5.8],[2.21,-6.65],[2.27,-6.0],[2.33,-6.4],[2.39,-5.6],[2.45,-6.8],[2.49,-5.9],[2.15,-7.05],[2.37,-7.2],
  [2.52,-6.25],[2.58,-5.55],[2.64,-6.65],[2.7,-5.85],[2.76,-6.4],[2.82,-5.35],[2.88,-6.0],[2.94,-5.65],[2.98,-6.5],[2.65,-6.95],[2.87,-7.1],
  [3.03,-5.25],[3.09,-5.95],[3.15,-5.55],[3.21,-6.4],[3.27,-5.75],[3.33,-6.15],[3.39,-5.35],[3.45,-6.55],[3.49,-5.65],[3.15,-6.8],[3.37,-6.95],
  [3.52,-5.9],[3.58,-5.2],[3.64,-6.3],[3.7,-5.5],[3.76,-6.05],[3.82,-5.0],[3.88,-5.65],[3.94,-5.3],[3.98,-6.15],[3.65,-6.6],[3.87,-6.75],
  [4.03,-4.85],[4.09,-5.55],[4.15,-5.15],[4.21,-6.0],[4.27,-5.35],[4.33,-5.75],[4.39,-4.95],[4.45,-6.15],[4.49,-5.25],[4.15,-6.4],[4.37,-6.55],
  [4.52,-5.45],[4.58,-4.75],[4.64,-5.85],[4.7,-5.05],[4.76,-5.6],[4.82,-4.55],[4.88,-5.2],[4.94,-4.85],[4.98,-5.7],[4.65,-6.15],[4.87,-6.3],
  [5.03,-4.35],[5.09,-5.05],[5.15,-4.65],[5.21,-5.5],[5.27,-4.85],[5.33,-5.25],[5.39,-4.45],[5.45,-5.65],[5.49,-4.75],[5.15,-5.9],[5.37,-6.05],
  [5.52,-4.9],[5.58,-4.2],[5.64,-5.3],[5.7,-4.5],[5.76,-5.05],[5.82,-4.0],[5.88,-4.65],[5.94,-4.3],[5.98,-5.15],[5.65,-5.6],[5.87,-5.75],
  [6.03,-3.75],[6.09,-4.45],[6.15,-4.05],[6.21,-4.9],[6.27,-4.25],[6.33,-4.65],[6.39,-3.85],[6.45,-5.05],[6.49,-4.15],[6.15,-5.3],[6.37,-5.45],
  [6.52,-4.25],[6.58,-3.55],[6.64,-4.65],[6.7,-3.85],[6.76,-4.4],[6.82,-3.35],[6.88,-4.0],[6.94,-3.65],[6.98,-4.5],
  [7.03,-3.05],[7.09,-3.75],[7.15,-3.35],[7.21,-4.2],[7.27,-3.55],[7.33,-3.95],[7.39,-3.15],[7.45,-4.35],[7.49,-3.45],
  [7.52,-3.55],[7.58,-2.85],[7.64,-3.95],[7.7,-3.15],[7.76,-3.7],[7.82,-2.65],[7.88,-3.3],[7.94,-2.95],[7.98,-3.8],
  [8.03,-2.35],[8.09,-3.05],[8.15,-2.65],[8.21,-3.5],[8.27,-2.85],[8.33,-3.25],[8.39,-2.45],[8.45,-3.65],[8.49,-2.75],
  [8.52,-2.8],[8.58,-2.1],[8.64,-3.2],[8.7,-2.4],[8.76,-2.95],[8.82,-1.9],[8.88,-2.55],[8.94,-2.2],[8.98,-3.05],
  [9.03,-1.55],[9.09,-2.25],[9.15,-1.85],[9.21,-2.7],[9.27,-2.05],[9.33,-2.45],[9.39,-1.65],[9.45,-2.85],[9.49,-1.95],
  [9.52,-2.05],[9.58,-1.35],[9.64,-2.45],[9.7,-1.65],[9.76,-2.2],[9.82,-1.15],[9.88,-1.8],[9.94,-1.45],[9.98,-2.3],
  [10.03,-0.85],[10.09,-1.55],[10.15,-1.15],[10.21,-2.0],[10.27,-1.35],[10.33,-1.75],[10.39,-0.95],[10.45,-2.15],[10.49,-1.25],
  [10.52,-1.3],[10.58,-0.6],[10.64,-1.7],[10.7,-0.9],[10.76,-1.45],[10.82,-0.4],[10.88,-1.05],[10.94,-0.7],[10.98,-1.55],
  [11.03,-0.05],[11.09,-0.75],[11.15,-0.35],[11.21,-1.2],[11.27,-0.55],[11.33,-0.95],[11.39,-0.15],[11.45,-1.35],[11.49,-0.45],
  [11.52,-0.5],[11.58,0.2],[11.64,-0.9],[11.7,-0.1],[11.76,-0.65],[11.82,0.4],[11.88,-0.25],[11.94,0.1],[11.98,-0.75],
  [12.03,0.65],[12.09,-0.05],[12.15,0.35],[12.21,-0.5],[12.27,0.15],[12.33,-0.25],[12.39,0.55],[12.45,-0.65],[12.49,0.25],
  [12.52,0.05],[12.58,0.75],[12.64,-0.35],[12.7,0.45],[12.76,-0.1],[12.82,0.95],[12.88,0.3],[12.94,0.65],[12.98,-0.2],
  [13.03,1.05],[13.09,0.35],[13.15,0.75],[13.21,-0.1],[13.27,0.55],[13.33,0.15],[13.39,0.95],[13.45,-0.25],[13.49,0.65]
];

// ── STYLE ─────────────────────────────────
const FONT = '"Liberation Sans", Arial, Helvetica, sans-serif';
const fitBlue = '#2a86c8';
const textBlue = '#2489d0';
const frameColor = '#3a3a3a';

// ── PLUGIN: ROOT-style frame with inward ticks ──
const rootFrame = {
  id: 'rootFrame',
  afterDraw(chart) {
    const { ctx, chartArea: a, scales: { x, y } } = chart;
    ctx.save();
    ctx.strokeStyle = frameColor;
    ctx.lineWidth = 1.4;
    ctx.strokeRect(a.left, a.top, a.right - a.left, a.bottom - a.top);
    ctx.beginPath();
    for (let v = x.min; v <= x.max; v++) {
      const len = v % 5 === 0 ? 14 : 7;
      const px = x.getPixelForValue(v);
      ctx.moveTo(px, a.bottom);
      ctx.lineTo(px, a.bottom - len);
    }
    for (let v = y.min; v <= y.max; v++) {
      const len = v % 5 === 0 ? 14 : 7;
      const py = y.getPixelForValue(v);
      ctx.moveTo(a.left, py);
      ctx.lineTo(a.left + len, py);
    }
    ctx.stroke();
    ctx.restore();
  }
};

// ── PLUGIN: legend + text boxes inside the frame ──
const panelText = {
  id: 'panelText',
  afterDraw(chart, args, opts) {
    const { ctx, chartArea: a } = chart;
    const L = a.left, T = a.top;
    ctx.save();
    ctx.textBaseline = 'middle';
    ctx.textAlign = 'left';

    // legend
    ctx.font = 'bold 14px ' + FONT;
    ctx.fillStyle = '#000';
    ctx.beginPath();
    ctx.arc(L + 236.5, T + 10.5, 3.6, 0, Math.PI * 2);
    ctx.fill();
    ctx.fillText(legendLabels[0], L + 268, T + 11);
    ctx.strokeStyle = fitBlue;
    ctx.lineWidth = 2.2;
    ctx.beginPath();
    ctx.moveTo(L + 217, T + 29.5);
    ctx.lineTo(L + 260, T + 29.5);
    ctx.stroke();
    ctx.fillStyle = textBlue;
    ctx.fillText(legendLabels[1], L + 268, T + 29);

    // mean trapping values
    ctx.font = 'bold 15.3px ' + FONT;
    ctx.fillStyle = '#000';
    ctx.fillText(meanTitle, L + 81, T + 68.5);
    ctx.fillText(opts.mean[0], L + 81, T + 87);
    ctx.fillText(opts.mean[1], L + 201, T + 87);

    // fit values
    ctx.fillStyle = textBlue;
    ctx.fillText(fitTitle, L + 135, T + 130);
    ctx.fillText(opts.fit[0], L + 79, T + 147);
    ctx.fillText(opts.fit[1], L + 196, T + 147);
    ctx.fillText(opts.fit[2], L + 350, T + 147);
    ctx.restore();
  }
};

// ── BUILD ONE PANEL ───────────────────────
function buildPanel(canvasId, events, fitCurve, texts, padLeft, padRight) {
  const tickFont = { family: FONT, size: 17 };
  const titleFont = { family: FONT, size: 20, weight: 'bold' };

  return new Chart(document.getElementById(canvasId), {
    type: 'scatter',
    data: {
      datasets: [
        {
          type: 'line',
          label: legendLabels[1],
          data: fitCurve.map(([x, y]) => ({ x, y })),
          borderColor: fitBlue,
          borderWidth: 3,
          pointRadius: 0,
          fill: false,
          cubicInterpolationMode: 'monotone',
          order: 0
        },
        {
          label: legendLabels[0],
          data: events.map(([x, y]) => ({ x, y })),
          pointRadius: 2.75,
          pointBackgroundColor: '#000',
          backgroundColor: '#000',
          borderWidth: 0,
          order: 1
        }
      ]
    },
    options: {
      responsive: false,
      animation: false,
      devicePixelRatio: 1,
      layout: { padding: { top: 14, right: padRight, bottom: 0, left: padLeft } },
      plugins: {
        legend: { display: false },
        tooltip: { enabled: false },
        panelText: texts
      },
      scales: {
        x: {
          type: 'linear',
          min: axisTicks[0],
          max: axisTicks[axisTicks.length - 1],
          grid: { display: false, drawTicks: false },
          border: { display: false },
          ticks: { stepSize: 5, padding: 6, color: '#222', font: tickFont, autoSkip: false },
          title: {
            display: true, text: xTitle, color: '#111', font: titleFont,
            padding: { top: 0, bottom: 6 }
          },
          afterFit: (s) => { s.height = 59; }
        },
        y: {
          type: 'linear',
          min: axisTicks[0],
          max: axisTicks[axisTicks.length - 1],
          grid: { display: false, drawTicks: false },
          border: { display: false },
          ticks: { stepSize: 5, padding: 5, color: '#222', font: tickFont, autoSkip: false },
          title: {
            display: true, text: '      ' + yTitle, color: '#111', font: titleFont,
            padding: { top: 9, bottom: 0 }
          },
          afterFit: (s) => { s.width = 59; }
        }
      }
    },
    plugins: [rootFrame, panelText]
  });
}

buildPanel('left-panel', leftEvents.concat(leftEventsCore), leftFitCurve,
  { mean: leftMean, fit: leftFit }, 0, 40);
buildPanel('right-panel', rightEvents.concat(rightEventsCore), rightFitCurve,
  { mean: rightMean, fit: rightFit }, 17, 24);
</script>
</body>
</html>
